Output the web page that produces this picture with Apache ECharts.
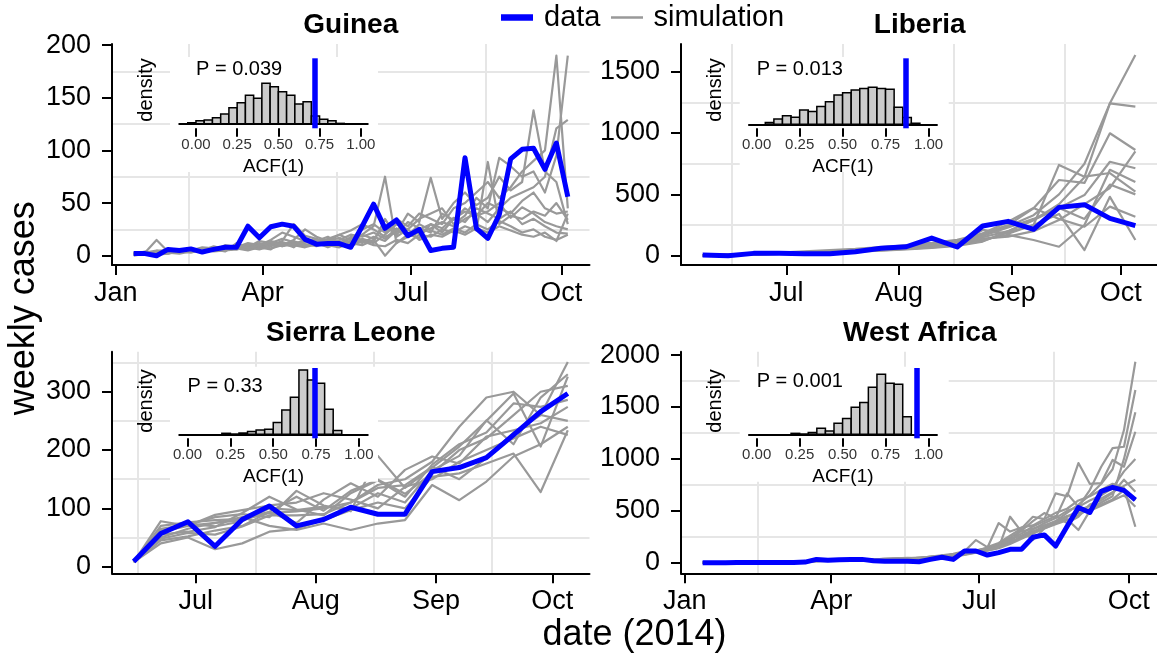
<!DOCTYPE html>
<html>
<head>
<meta charset="utf-8">
<script src="https://cdn.jsdelivr.net/npm/echarts@6/dist/echarts.min.js"></script>
<style>
  html, body { margin: 0; padding: 0; background: #fff; }
  #chart { width: 1157px; height: 656px; }
</style>
</head>
<body>
<div id="chart"></div>
<script>
// weekly report dates
const westDates = [
  '2014-01-12', '2014-01-19', '2014-01-26', '2014-02-02', '2014-02-09', '2014-02-16', '2014-02-23',
  '2014-03-02', '2014-03-09', '2014-03-16', '2014-03-23', '2014-03-30', '2014-04-06', '2014-04-13',
  '2014-04-20', '2014-04-27', '2014-05-04', '2014-05-11', '2014-05-18', '2014-05-25', '2014-06-01',
  '2014-06-08', '2014-06-15', '2014-06-22', '2014-06-29', '2014-07-06', '2014-07-13', '2014-07-20',
  '2014-07-27', '2014-08-03', '2014-08-10', '2014-08-17', '2014-08-24', '2014-08-31', '2014-09-07',
  '2014-09-14', '2014-09-21', '2014-09-28', '2014-10-05'
];
const liberiaDates = [
  '2014-06-08', '2014-06-15', '2014-06-22', '2014-06-29', '2014-07-06', '2014-07-13', '2014-07-20',
  '2014-07-27', '2014-08-03', '2014-08-10', '2014-08-17', '2014-08-24', '2014-08-31', '2014-09-07',
  '2014-09-14', '2014-09-21', '2014-09-28', '2014-10-05'
];
const sierraDates = liberiaDates.slice(1);

// observed weekly cases
const guineaData = [2, 2, 0, 6, 5, 6.5, 3.5, 6, 8, 8, 28, 17, 27.5, 30, 28, 15.5, 11, 11.5, 11.5, 8,
  28, 49, 26, 34, 19, 25, 5, 7, 8, 93, 26, 16.5, 39, 92, 101, 102, 82, 107, 56];
const liberiaData = [5, 0, 19, 19, 16, 16, 33, 60, 73, 144, 71, 242, 280, 215, 394, 416, 304, 245];
const sierraData = [9, 57, 77, 35, 81, 104, 70, 81, 102, 90, 90, 163, 170, 187, 226, 266, 297];
const westData = [0, 0, 0, 3, 3, 3, 3, 3, 3, 6, 32, 23, 29, 32, 32, 19, 13, 13, 13, 10,
  32, 52, 32, 113, 113, 74, 97, 129, 129, 245, 268, 161, 348, 532, 484, 687, 726, 697, 606];

// simulated trajectories
const guineaSims = [
  [2, 3, 15, 4, 6, 5, 7, 6, 9, 8, 12, 10, 15, 22, 18, 14, 12, 16, 20, 15, 25, 30, 22, 35, 28, 40, 35, 30, 45, 50, 60, 70, 55, 65, 80, 90, 100, 190, 45],
  [1, 2, 3, 5, 4, 6, 5, 8, 7, 10, 9, 12, 10, 14, 30, 19, 16, 12, 10, 18, 15, 12, 20, 30, 25, 35, 40, 45, 30, 38, 55, 45, 93, 85, 75, 80, 60, 95, 190],
  [3, 2, 4, 6, 3, 5, 8, 7, 6, 9, 8, 14, 12, 10, 15, 25, 18, 14, 20, 24, 30, 25, 18, 22, 40, 32, 74, 35, 50, 60, 48, 55, 75, 62, 70, 138, 80, 70, 30],
  [2, 4, 2, 3, 5, 7, 4, 6, 8, 6, 10, 8, 12, 16, 13, 11, 9, 14, 17, 12, 20, 28, 75, 12, 20, 25, 30, 22, 35, 42, 38, 50, 45, 55, 60, 65, 75, 121, 129],
  [1, 3, 5, 4, 3, 5, 6, 5, 7, 8, 6, 9, 14, 11, 9, 13, 16, 10, 8, 12, 10, 15, 0, 12, 18, 22, 26, 32, 28, 35, 40, 32, 45, 40, 52, 60, 45, 40, 42],
  [2, 1, 3, 4, 6, 4, 5, 9, 6, 7, 9, 7, 11, 9, 14, 10, 12, 8, 12, 9, 14, 10, 9, 15, 12, 20, 18, 25, 22, 28, 24, 89, 30, 38, 35, 42, 38, 50, 34],
  [0, 2, 2, 5, 4, 3, 6, 4, 5, 7, 5, 8, 6, 13, 10, 8, 11, 15, 13, 16, 12, 18, 14, 24, 20, 17, 30, 26, 36, 32, 45, 40, 35, 42, 30, 35, 28, 22, 21],
  [2, 3, 1, 2, 4, 6, 3, 7, 5, 6, 8, 6, 9, 12, 8, 16, 14, 18, 11, 14, 20, 16, 28, 20, 32, 26, 22, 40, 34, 45, 38, 42, 50, 36, 46, 40, 32, 28, 25],
  [1, 2, 4, 3, 2, 4, 6, 5, 10, 8, 11, 9, 7, 10, 12, 9, 13, 11, 15, 20, 18, 22, 16, 26, 19, 30, 24, 20, 26, 22, 30, 25, 33, 28, 22, 25, 18, 15, 20],
  [3, 2, 3, 2, 5, 4, 5, 6, 4, 12, 7, 10, 13, 9, 11, 15, 10, 13, 9, 11, 16, 13, 35, 18, 25, 15, 20, 18, 24, 20, 26, 22, 28, 24, 20, 18, 22, 14, 40]
];
const liberiaSims = [
  [3, 8, 15, 22, 30, 38, 48, 62, 80, 100, 120, 170, 240, 330, 500, 750, 1242, 1636],
  [2, 6, 12, 18, 25, 32, 40, 55, 70, 90, 110, 150, 200, 290, 420, 640, 1242, 1215],
  [4, 10, 18, 25, 35, 45, 55, 70, 85, 105, 130, 180, 250, 386, 617, 593, 998, 862],
  [2, 5, 10, 15, 22, 30, 40, 50, 65, 80, 100, 160, 230, 300, 390, 494, 766, 713],
  [3, 7, 12, 20, 28, 35, 45, 58, 72, 85, 90, 210, 180, 250, 740, 644, 674, 522],
  [1, 4, 9, 14, 20, 28, 38, 48, 60, 78, 95, 140, 155, 200, 291, 420, 552, 850],
  [2, 5, 11, 17, 26, 34, 42, 52, 66, 82, 105, 180, 277, 389, 300, 236, 400, 318],
  [3, 6, 13, 19, 24, 31, 39, 47, 58, 70, 88, 130, 170, 128, 73, 250, 700, 600],
  [2, 5, 10, 16, 22, 29, 36, 44, 55, 68, 85, 120, 190, 250, 340, 46, 480, 128],
  [1, 3, 8, 14, 20, 26, 34, 42, 52, 64, 80, 115, 200, 291, 389, 300, 580, 500]
];
const sierraSims = [
  [8, 78, 70, 75, 80, 92, 95, 100, 110, 140, 150, 180, 240, 290, 300, 260, 351],
  [8, 65, 72, 85, 90, 85, 130, 105, 95, 190, 135, 170, 206, 250, 297, 206, 326],
  [8, 55, 60, 68, 92, 120, 98, 88, 126, 148, 120, 175, 210, 230, 280, 274, 286],
  [8, 45, 52, 62, 70, 94, 75, 115, 143, 120, 166, 189, 177, 223, 234, 246, 274],
  [8, 40, 50, 30, 40, 60, 65, 80, 97, 110, 100, 154, 160, 177, 194, 128, 234],
  [8, 60, 70, 89, 97, 105, 110, 126, 115, 100, 137, 150, 180, 200, 220, 240, 226],
  [8, 50, 65, 75, 85, 70, 63, 74, 63, 74, 80, 140, 114, 146, 189, 210, 240],
  [8, 62, 74, 69, 78, 100, 97, 103, 100, 126, 110, 165, 190, 251, 210, 290, 330],
  [8, 48, 58, 55, 69, 88, 88, 90, 110, 135, 140, 171, 150, 186, 230, 260, 250],
  [8, 70, 76, 80, 82, 94, 120, 96, 130, 149, 125, 160, 200, 220, 260, 300, 310]
];
const westSims = [
  [0, 2, 3, 4, 5, 6, 8, 10, 12, 15, 18, 22, 25, 28, 32, 30, 35, 40, 38, 45, 50, 60, 70, 90, 110, 130, 150, 200, 250, 300, 350, 400, 480, 560, 650, 760, 900, 1278, 1936],
  [1, 3, 2, 5, 6, 8, 7, 11, 13, 14, 20, 24, 22, 30, 35, 33, 38, 36, 42, 50, 55, 65, 80, 100, 120, 140, 180, 240, 310, 400, 478, 430, 500, 540, 700, 925, 1104, 1117, 1664],
  [0, 1, 3, 4, 4, 7, 9, 8, 11, 16, 17, 20, 28, 26, 30, 36, 34, 42, 48, 44, 60, 72, 85, 110, 218, 150, 190, 260, 330, 443, 420, 668, 640, 960, 760, 767, 990, 925, 1262],
  [1, 2, 4, 3, 6, 5, 8, 9, 14, 12, 15, 19, 23, 27, 25, 32, 38, 35, 40, 48, 52, 58, 75, 95, 105, 125, 170, 220, 280, 350, 400, 450, 382, 443, 560, 600, 671, 800, 684],
  [0, 2, 2, 3, 5, 7, 6, 10, 11, 13, 16, 18, 21, 25, 29, 34, 31, 37, 44, 40, 46, 55, 66, 85, 100, 120, 160, 200, 314, 218, 330, 380, 420, 315, 500, 550, 600, 650, 540],
  [1, 1, 3, 5, 4, 6, 9, 8, 12, 14, 19, 21, 24, 22, 28, 31, 36, 33, 39, 46, 48, 62, 70, 92, 115, 135, 175, 230, 260, 320, 380, 430, 668, 540, 600, 650, 720, 880, 1000],
  [0, 2, 3, 3, 5, 6, 7, 9, 10, 13, 17, 20, 23, 29, 27, 35, 33, 39, 41, 43, 58, 66, 78, 98, 112, 145, 382, 300, 340, 360, 420, 480, 520, 600, 640, 700, 760, 720, 347],
  [1, 2, 2, 4, 5, 5, 8, 9, 12, 14, 16, 23, 26, 24, 31, 29, 37, 40, 37, 45, 50, 56, 68, 88, 108, 128, 155, 190, 240, 290, 340, 390, 440, 500, 550, 620, 680, 740, 800],
  [0, 1, 2, 4, 3, 6, 7, 8, 10, 12, 15, 18, 20, 24, 26, 28, 30, 34, 36, 40, 44, 50, 60, 76, 96, 116, 140, 180, 230, 280, 330, 370, 410, 460, 520, 580, 640, 1000, 1450],
  [1, 2, 3, 4, 6, 7, 9, 11, 12, 15, 18, 21, 25, 27, 30, 33, 35, 38, 40, 44, 48, 54, 64, 80, 100, 118, 145, 443, 300, 330, 360, 400, 450, 480, 510, 560, 610, 700, 600]
];

// axis ticks and light grid positions
const westMonths = ['2014-01-01', '2014-04-01', '2014-07-01', '2014-10-01'];
const lateMonths = ['2014-07-01', '2014-08-01', '2014-09-01', '2014-10-01'];
const westMinorX = ['2014-02-15', '2014-05-16T12:00', '2014-08-16'];
const lateMinorX = ['2014-06-16', '2014-07-16T12:00', '2014-08-16', '2014-09-15T12:00'];
const guineaTicks = [0, 50, 100, 150, 200];
const liberiaTicks = [0, 500, 1000, 1500];
const sierraTicks = [0, 100, 200, 300];
const westTicks = [0, 500, 1000, 1500, 2000];
const guineaMinorY = [25, 75, 125, 175];
const liberiaMinorY = [250, 750, 1250];
const sierraMinorY = [50, 150, 250, 350];
const westMinorY = [250, 750, 1250, 1750];

// ACF(1) histograms of the simulations (bin left edges, width 0.05) and observed values
const acfTicks = [0, 0.25, 0.5, 0.75, 1];
const guineaBins = [-0.05, 0, 0.05, 0.1, 0.15, 0.2, 0.25, 0.3, 0.35, 0.4, 0.45, 0.5, 0.55, 0.6, 0.65, 0.7, 0.75, 0.8, 0.85];
const guineaDensity = [0.08, 0.21, 0.25, 0.4, 0.63, 1.03, 1.35, 1.82, 1.63, 2.58, 2.37, 2.05, 1.82, 1.27, 1.42, 0.51, 0.3, 0.21, 0.04];
const liberiaBins = [0.05, 0.1, 0.15, 0.2, 0.25, 0.3, 0.35, 0.4, 0.45, 0.5, 0.55, 0.6, 0.65, 0.7, 0.75, 0.8, 0.85, 0.9];
const liberiaDensity = [0.1, 0.3, 0.49, 0.4, 0.81, 0.72, 1.0, 1.28, 1.66, 1.79, 1.94, 2.03, 2.09, 2.03, 1.98, 0.96, 0.38, 0.06];
const sierraBins = [0.2, 0.25, 0.3, 0.35, 0.4, 0.45, 0.5, 0.55, 0.6, 0.65, 0.7, 0.75, 0.8, 0.85];
const sierraDensity = [0.07, 0.02, 0.09, 0.19, 0.3, 0.35, 0.82, 1.7, 2.59, 4.5, 3.8, 3.57, 1.75, 0.26];
const westBins = [0.2, 0.25, 0.3, 0.35, 0.4, 0.45, 0.5, 0.55, 0.6, 0.65, 0.7, 0.75, 0.8, 0.85];
const westDensity = [0.06, 0.02, 0.11, 0.37, 0.2, 0.68, 0.97, 1.67, 1.96, 2.91, 3.71, 3.15, 3.09, 1.09];
const observedAcf = [0.72, 0.867, 0.741, 0.925];
const pValues = ['0.039', '0.013', '0.33', '0.001'];

const MONTHS = ['Jan', 'Feb', 'Mar', 'Apr', 'May', 'Jun', 'Jul', 'Aug', 'Sep', 'Oct', 'Nov', 'Dec'];
const FONT = '"Liberation Sans", Arial, sans-serif';
const ts = (s) => Date.parse(s.includes('T') ? s + ':00Z' : s + 'T00:00:00Z');
const pts = (dates, vals) => dates.map((d, i) => [ts(d), vals[i]]);

const panels = [
  { title: 'Guinea', dates: westDates, data: guineaData, sims: guineaSims,
    grid: { left: 112, top: 44, width: 477.5, height: 221 }, y: [-8.8, 201],
    yTicks: guineaTicks, yMinor: guineaMinorY, xTicks: westMonths, xMinor: westMinorX, titleY: 25 },
  { title: 'Liberia', dates: liberiaDates, data: liberiaData, sims: liberiaSims,
    grid: { left: 681, top: 44, width: 477.5, height: 221 }, y: [-75.8, 1725.8],
    yTicks: liberiaTicks, yMinor: liberiaMinorY, xTicks: lateMonths, xMinor: lateMinorX, titleY: 25 },
  { title: 'Sierra Leone', dates: sierraDates, data: sierraData, sims: sierraSims,
    grid: { left: 112, top: 351.7, width: 477.5, height: 221.6 }, y: [-11.3, 368.6],
    yTicks: sierraTicks, yMinor: sierraMinorY, xTicks: lateMonths, xMinor: lateMinorX, titleY: 333 },
  { title: 'West Africa', dates: westDates, data: westData, sims: westSims,
    grid: { left: 681, top: 351.7, width: 477.5, height: 221.6 }, y: [-102, 2033],
    yTicks: westTicks, yMinor: westMinorY, xTicks: westMonths, xMinor: westMinorX, titleY: 333 }
];

const insets = [
  { bins: guineaBins, dens: guineaDensity, grid: { left: 178.5, top: 58.3, width: 190, height: 70 },
    x: [-0.106, 1.047], y: [-0.273, 4.17], box: [170, 57, 208, 115], pPos: [196, 69.5], densPos: [146, 90] },
  { bins: liberiaBins, dens: liberiaDensity, grid: { left: 748.2, top: 58.3, width: 189.5, height: 70 },
    x: [-0.0495, 1.0536], y: [-0.226, 3.73], box: [739.7, 57, 209, 115], pPos: [756.7, 69.5], densPos: [715.7, 90] },
  { bins: sierraBins, dens: sierraDensity, grid: { left: 178.5, top: 368, width: 190, height: 70.3 },
    x: [-0.053, 1.056], y: [-0.28, 4.64], box: [170, 366.7, 208, 115], pPos: [187.6, 386], densPos: [146, 401] },
  { bins: westBins, dens: westDensity, grid: { left: 748.2, top: 368, width: 189.5, height: 70.3 },
    x: [-0.0495, 1.0536], y: [-0.247, 4.1], box: [739.7, 366.7, 209, 115], pPos: [756.7, 381], densPos: [715.7, 401] }
];

const option = {
  backgroundColor: '#fff',
  animation: false,
  textStyle: { fontFamily: FONT },
  grid: [], xAxis: [], yAxis: [], series: [], graphic: []
};

panels.forEach((p, k) => {
  const t0 = ts(p.dates[0]);
  const t1 = ts(p.dates[p.dates.length - 1]);
  const pad = (t1 - t0) * 0.05;
  option.grid.push(p.grid);
  // dates as UTC timestamps on a numeric axis, labelled by month
  option.xAxis.push({
    gridIndex: k, type: 'value', min: t0 - pad, max: t1 + pad, zlevel: 1, scale: true,
    splitLine: { show: false },
    axisLine: { onZero: false, lineStyle: { color: '#000', width: 2 } },
    axisTick: { length: 10, customValues: p.xTicks.map(ts), lineStyle: { color: '#000', width: 2 } },
    axisLabel: {
      customValues: p.xTicks.map(ts), formatter: (v) => MONTHS[new Date(v).getUTCMonth()],
      fontSize: 27, color: '#000', margin: 15, fontFamily: FONT
    }
  });
  option.yAxis.push({
    gridIndex: k, type: 'value', min: p.y[0], max: p.y[1], zlevel: 1,
    splitLine: { show: false },
    axisLine: { show: true, onZero: false, lineStyle: { color: '#000', width: 2 } },
    axisTick: { show: true, length: 10, customValues: p.yTicks, lineStyle: { color: '#000', width: 2 } },
    axisLabel: { customValues: p.yTicks, formatter: (v) => String(v), fontSize: 27, color: '#000', margin: 21, fontFamily: FONT }
  });
  // carrier for the light grid lines (invisible line)
  option.series.push({
    type: 'line', xAxisIndex: k, yAxisIndex: k, zlevel: 0, silent: true,
    data: pts(p.dates, p.data), showSymbol: false, lineStyle: { opacity: 0 },
    markLine: {
      zlevel: 0, silent: true, symbol: ['none', 'none'], label: { show: false },
      lineStyle: { color: '#e6e6e6', width: 2, type: 'solid' },
      data: p.yMinor.map((v) => ({ yAxis: v })).concat(p.xMinor.map((d) => ({ xAxis: ts(d) })))
    }
  });
  p.sims.forEach((s) => {
    option.series.push({
      type: 'line', xAxisIndex: k, yAxisIndex: k, zlevel: 1, z: 2, silent: true,
      data: pts(p.dates, s), showSymbol: false,
      lineStyle: { color: '#999999', width: 2.2, join: 'round' }
    });
  });
  option.series.push({
    type: 'line', xAxisIndex: k, yAxisIndex: k, zlevel: 1, z: 4, silent: true,
    data: pts(p.dates, p.data), showSymbol: false,
    lineStyle: { color: '#0000ff', width: 5, join: 'round' }
  });
  option.graphic.push({
    type: 'text', x: p.grid.left + p.grid.width / 2, y: p.titleY, zlevel: 1,
    style: { text: p.title, fill: '#000', fontSize: 28, fontWeight: 'bold', fontFamily: FONT,
      align: 'center', verticalAlign: 'middle', textAlign: 'center', textVerticalAlign: 'middle' }
  });
});

insets.forEach((q, j) => {
  const gi = 4 + j;
  const hist = q.bins.map((b, i) => [b, q.dens[i]]);
  option.grid.push(q.grid);
  option.xAxis.push({
    gridIndex: gi, type: 'value', min: q.x[0], max: q.x[1], zlevel: 3,
    splitLine: { show: false },
    axisLine: { show: false, onZero: false },
    axisTick: { length: 8.5, customValues: acfTicks, lineStyle: { color: '#000', width: 2 } },
    axisLabel: { customValues: acfTicks, formatter: (v) => v.toFixed(2), fontSize: 15, color: '#333', margin: 9, fontFamily: FONT },
    name: 'ACF(1)', nameLocation: 'middle', nameGap: 29,
    nameTextStyle: { fontSize: 19, color: '#000', fontFamily: FONT }
  });
  option.yAxis.push({ gridIndex: gi, type: 'value', min: q.y[0], max: q.y[1], show: false });
  option.series.push({
    type: 'custom', xAxisIndex: gi, yAxisIndex: gi, zlevel: 3, z: 2, silent: true, data: hist,
    encode: { x: 0, y: 1 },
    renderItem: (params, api) => {
      const a = api.coord([api.value(0), api.value(1)]);
      const b = api.coord([api.value(0) + 0.05, 0]);
      return {
        type: 'rect',
        shape: { x: a[0], y: a[1], width: b[0] - a[0], height: b[1] - a[1] },
        style: { fill: '#cccccc', stroke: '#000', lineWidth: 1.5 }
      };
    }
  });
  option.series.push({
    type: 'line', xAxisIndex: gi, yAxisIndex: gi, zlevel: 3, z: 3, silent: true,
    data: hist, showSymbol: false, lineStyle: { opacity: 0 },
    markLine: {
      zlevel: 3, z: 5, silent: true, symbol: ['none', 'none'], label: { show: false },
      data: [
        { yAxis: 0, lineStyle: { color: '#000', width: 2, type: 'solid' } },
        { xAxis: observedAcf[j], lineStyle: { color: '#0000ff', width: 5.5, type: 'solid' } }
      ]
    }
  });
  option.graphic.push({
    type: 'rect', zlevel: 2, silent: true,
    shape: { x: q.box[0], y: q.box[1], width: q.box[2], height: q.box[3] },
    style: { fill: '#fff' }
  });
  option.graphic.push({
    type: 'text', x: q.pPos[0], y: q.pPos[1], zlevel: 3,
    style: { text: 'P = ' + pValues[j], fill: '#000', fontSize: 20, fontFamily: FONT,
      align: 'left', verticalAlign: 'middle', textAlign: 'left', textVerticalAlign: 'middle' }
  });
  option.graphic.push({
    type: 'text', x: q.densPos[0], y: q.densPos[1], rotation: Math.PI / 2, zlevel: 3,
    style: { text: 'density', fill: '#000', fontSize: 20, fontFamily: FONT,
      align: 'center', verticalAlign: 'middle', textAlign: 'center', textVerticalAlign: 'middle' }
  });
});

// legend and shared axis titles
option.graphic.push(
  { type: 'line', zlevel: 1, shape: { x1: 501, y1: 17.5, x2: 533, y2: 17.5 }, style: { stroke: '#0000ff', lineWidth: 6.5 } },
  { type: 'text', x: 544, y: 18, zlevel: 1,
    style: { text: 'data', fill: '#000', fontSize: 29, fontFamily: FONT, align: 'left', verticalAlign: 'middle', textAlign: 'left', textVerticalAlign: 'middle' } },
  { type: 'line', zlevel: 1, shape: { x1: 611, y1: 17.5, x2: 643, y2: 17.5 }, style: { stroke: '#999999', lineWidth: 2.5 } },
  { type: 'text', x: 653.6, y: 18, zlevel: 1,
    style: { text: 'simulation', fill: '#000', fontSize: 29, fontFamily: FONT, align: 'left', verticalAlign: 'middle', textAlign: 'left', textVerticalAlign: 'middle' } },
  { type: 'text', x: 24.5, y: 308.3, rotation: Math.PI / 2, zlevel: 1,
    style: { text: 'weekly cases', fill: '#000', fontSize: 36, fontFamily: FONT, align: 'center', verticalAlign: 'middle', textAlign: 'center', textVerticalAlign: 'middle' } },
  { type: 'text', x: 634.5, y: 635, zlevel: 1,
    style: { text: 'date (2014)', fill: '#000', fontSize: 36, fontFamily: FONT, align: 'center', verticalAlign: 'middle', textAlign: 'center', textVerticalAlign: 'middle' } }
);

const chart = echarts.init(document.getElementById('chart'), null, { renderer: 'canvas' });
chart.setOption(option);
</script>
</body>
</html>
